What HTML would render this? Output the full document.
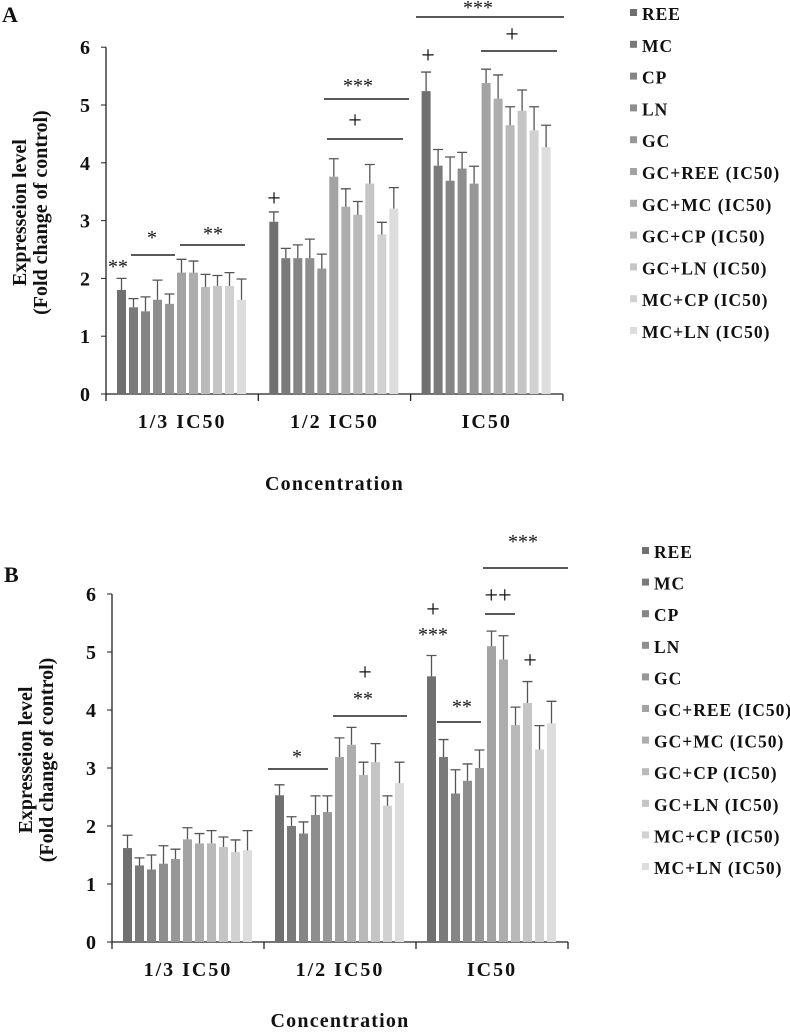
<!DOCTYPE html>
<html><head><meta charset="utf-8"><style>
body{margin:0;background:#fff}
svg text{font-family:"Liberation Serif",serif;font-weight:bold;fill:#111}
</style></head><body>
<svg id="s" width="790" height="1031" viewBox="0 0 790 1031">
<text x="2" y="22" font-size="22">A</text>
<text x="4" y="582" font-size="22">B</text>
<g id="gA"></g>
<g id="gB"></g>
</svg>
<script>
const categories=["1/3 IC50","1/2 IC50","IC50"];
const series=["REE","MC","CP","LN","GC","GC+REE (IC50)","GC+MC (IC50)","GC+CP (IC50)","GC+LN (IC50)","MC+CP (IC50)","MC+LN (IC50)"];
const yTicks=[0,1,2,3,4,5,6];
const valuesA=[[1.8,1.5,1.43,1.63,1.56,2.1,2.1,1.85,1.87,1.87,1.63],[2.98,2.35,2.35,2.35,2.17,3.76,3.24,3.1,3.64,2.76,3.21],[5.24,3.95,3.69,3.9,3.64,5.38,5.11,4.65,4.9,4.56,4.27]];
const errTopA=[[2.0,1.65,1.68,1.97,1.73,2.33,2.3,2.07,2.05,2.1,1.99],[3.15,2.52,2.58,2.68,2.42,4.07,3.55,3.33,3.97,2.97,3.57],[5.57,4.23,4.1,4.18,3.94,5.62,5.52,4.97,5.26,4.97,4.65]];
const valuesB=[[1.62,1.32,1.25,1.35,1.43,1.77,1.7,1.7,1.64,1.55,1.58],[2.53,2.0,1.87,2.19,2.24,3.19,3.4,2.88,3.1,2.35,2.74],[4.58,3.19,2.56,2.78,3.0,5.1,4.87,3.74,4.12,3.32,3.77]];
const errTopB=[[1.84,1.45,1.5,1.66,1.6,1.97,1.87,1.92,1.81,1.76,1.92],[2.71,2.16,2.07,2.52,2.52,3.52,3.7,3.1,3.42,2.52,3.1],[4.94,3.49,2.97,3.07,3.31,5.36,5.28,4.05,4.49,3.73,4.15]];
const colors=["#707070","#7a7a7a","#858585","#8e8e8e","#979797","#a3a3a3","#adadad","#b9b9b9","#c5c5c5","#d1d1d1","#dddddd"];
const NS="http://www.w3.org/2000/svg";
function mk(p,t,a,txt){const e=document.createElementNS(NS,t);for(const k in a)e.setAttribute(k,a[k]);if(txt!=null)e.textContent=txt;p.appendChild(e);return e;}
function draw(g,cfg,vals,tops,ann){
  const {x0,y0,ppu,gw}=cfg;
  const ys=v=>y0-v*ppu;
  const xs=(ci,si)=>x0+11+ci*gw+si*12;
  let e=mk(g,'line',{x1:x0,y1:y0,x2:x0+3*gw,y2:y0,stroke:'#222','stroke-width':1.3});
  
  e=mk(g,'line',{x1:x0,y1:y0,x2:x0,y2:ys(6),stroke:'#222','stroke-width':1.3});
  
  yTicks.forEach(t=>{
    mk(g,'line',{x1:x0-5,y1:ys(t),x2:x0,y2:ys(t),stroke:'#222'});
    e=mk(g,'text',{x:x0-16,y:ys(t)+7,'font-size':20,'text-anchor':'end'},t);
    
  });
  for(let i=0;i<=3;i++)mk(g,'line',{x1:x0+i*gw,y1:y0,x2:x0+i*gw,y2:y0+7,stroke:'#222','stroke-width':1.3});
  categories.forEach((c,ci)=>{
    e=mk(g,'text',{x:x0+ci*gw+gw/2,y:y0+34,'font-size':20,'letter-spacing':2,'text-anchor':'middle'},c);
    
    vals[ci].forEach((v,si)=>{
      const x=xs(ci,si);
      e=mk(g,'rect',{x:x,y:ys(v),width:9,height:v*ppu,fill:colors[si]});
      
      const cx=x+4.5;
      e=mk(g,'path',{d:`M${cx} ${ys(v)}V${ys(tops[ci][si])}M${cx-5} ${ys(tops[ci][si])}H${cx+5}`,stroke:'#555','stroke-width':1.3,fill:'none'});
      
    });
  });
  ann.forEach(a=>{
    if(a[0]==='l'){e=mk(g,'line',{x1:a[1],y1:a[3],x2:a[2],y2:a[3],stroke:'#222','stroke-width':1.5});}
    else{e=mk(g,'text',{x:a[1],y:a[2],'font-size':a[3]||20,'text-anchor':'middle',style:'font-weight:normal'},a[0]);}
    
  });
  const cy=(y0+ys(6))/2-8;
  e=mk(g,'text',{x:0,y:0,'font-size':20,'text-anchor':'middle',transform:`translate(${cfg.ylx},${cy}) rotate(-90)`},'Expresseion level');
  
  e=mk(g,'text',{x:0,y:0,'font-size':20,'text-anchor':'middle',transform:`translate(${cfg.ylx+21},${cy}) rotate(-90)`},'(Fold change of control)');
  
  e=mk(g,'text',{x:x0+1.5*gw,y:cfg.xty,'font-size':20,'letter-spacing':1.2,'text-anchor':'middle'},'Concentration');
  
  series.forEach((s,i)=>{
    const y=cfg.ly+i*cfg.ls;
    e=mk(g,'rect',{x:cfg.lx,y:y-5,width:7,height:7,fill:colors[i]});
    
    e=mk(g,'text',{x:cfg.lx+12,y:y+6,'font-size':17.5,'letter-spacing':1},s);
    
  });
}
draw(document.getElementById('gA'),{x0:106,y0:394,ppu:57.8,gw:152.3,ylx:26,xty:490,lx:630,ly:14,ls:31.8},valuesA,errTopA,[
 ['**',118,273],['l',131,175,255],['*',152,244],['l',180,245,245],['**',213,240],
 ['+',274,206,24],['l',327,403,139],['+',355,128,24],['l',324,409,99],['***',358,92],
 ['+',428,63,24],['l',481,557,51],['+',512,42,24],['l',416,564,17],['***',478,14]]);
draw(document.getElementById('gB'),{x0:112,y0:942,ppu:58,gw:152,ylx:32,xty:1027,lx:642,ly:552,ls:31.6},valuesB,errTopB,[
 ['l',268,328,769],['*',297,763],['+',365,680,24],['l',333,407,716],['**',363,705],
 ['+',433,617,24],['***',433,641],['l',437,481,722],['**',462,713],
 ['++',498,603,24],['l',485,515,614],['l',483,568,568],['***',523,548],['+',530,668,24]]);
</script>
</body></html>
